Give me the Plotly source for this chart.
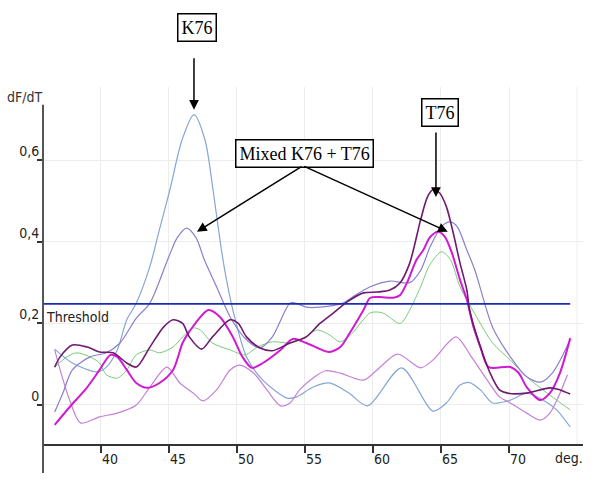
import plotly.graph_objects as go

# ---------------- data ----------------
k76_t = [36.6, 37.9, 39.7, 40.4, 41.2, 41.9, 42.6, 43.6, 44.3, 45.07, 45.96, 46.84, 47.65, 48.24, 48.75, 49.1,
         49.7, 50.7, 51.9, 53.7, 54.4, 55.6, 56.8, 58.2, 59.6, 62.1, 64.4, 65.4, 66.4, 67.1, 67.9, 68.8, 70.1,
         71.3, 72.5, 73.5, 74.5]
k76_v = [0.137, 0.103, 0.081, 0.093, 0.135, 0.209, 0.25, 0.34, 0.43, 0.528, 0.65, 0.712, 0.65, 0.528, 0.405, 0.331,
         0.233, 0.118, 0.061, 0.017, 0.020, 0.044, 0.054, 0.03, -0.002, 0.091, -0.015, 0.005, 0.049, 0.055, 0.037,
         0.005, 0.012, 0.029, 0.012, -0.012, -0.054]

mix_t = [36.6, 37.2, 37.9, 39.2, 40.4, 41.4, 42.6, 43.6, 44.9, 45.6, 46.3, 47.0, 47.6, 48.5, 49.5, 50.7, 51.7,
         52.6, 53.9, 54.3, 55.1, 56.1, 57.8, 58.5, 59.8, 61.25, 62.7, 63.5, 64.2, 65.1, 65.7, 66.2, 66.9, 67.5,
         68.8, 70.1, 71.3, 72.3, 73.2, 74.5]
mix_v = [-0.017, 0.029, 0.086, 0.118, 0.128, 0.152, 0.213, 0.25, 0.356, 0.41, 0.434, 0.41, 0.356, 0.29, 0.216,
         0.16, 0.14, 0.167, 0.25, 0.25, 0.24, 0.24, 0.25, 0.265, 0.29, 0.304, 0.30, 0.33, 0.388, 0.44, 0.449,
         0.437, 0.38, 0.33, 0.19, 0.118, 0.069, 0.056, 0.079, 0.16]

t76_t = [36.6, 37.0, 37.9, 39.0, 39.9, 40.9, 41.9, 42.6, 43.6, 44.6, 45.3, 46.0, 46.5, 47.4, 48.2, 49.5, 50.1,
         50.7, 51.7, 52.6, 53.9, 55.1, 56.1, 57.1, 58.1, 59.3, 60.3, 61.25, 62.0, 62.7, 63.5, 64.0, 64.4, 64.9,
         65.4, 65.9, 66.4, 66.9, 67.1, 67.9, 68.6, 69.3, 69.9, 71.3, 73.0, 73.75, 74.5]
t76_v = [0.093, 0.118, 0.147, 0.142, 0.13, 0.128, 0.103, 0.093, 0.142, 0.191, 0.209, 0.20, 0.167, 0.137, 0.167,
         0.209, 0.20, 0.167, 0.14, 0.133, 0.152, 0.167, 0.20, 0.226, 0.253, 0.275, 0.277, 0.282, 0.30, 0.348,
         0.454, 0.51, 0.528, 0.52, 0.486, 0.422, 0.348, 0.282, 0.233, 0.142, 0.079, 0.037, 0.029, 0.029, 0.042,
         0.037, 0.027]

mag_t = [36.6, 37.7, 39.0, 39.9, 40.7, 41.2, 41.9, 42.6, 43.4, 44.3, 45.3, 46.0, 46.5, 47.9, 48.75, 49.7, 50.4,
         51.1, 51.9, 53.2, 54.1, 55.1, 56.1, 56.8, 57.6, 58.3, 59.3, 59.8, 60.5, 61.5, 62.0, 62.5, 63.2, 63.7,
         64.2, 64.8, 65.3, 65.8, 66.4, 66.9, 67.4, 67.9, 68.5, 70.1, 70.7, 71.3, 72.3, 73.0, 73.75, 74.5]
mag_v = [-0.049, -0.005, 0.044, 0.086, 0.123, 0.118, 0.086, 0.054, 0.042, 0.054, 0.086, 0.152, 0.18, 0.233,
         0.216, 0.167, 0.118, 0.091, 0.103, 0.135, 0.162, 0.152, 0.137, 0.13, 0.142, 0.177, 0.233, 0.263, 0.265,
         0.263, 0.27, 0.30, 0.356, 0.38, 0.412, 0.425, 0.412, 0.373, 0.307, 0.258, 0.19, 0.142, 0.093, 0.093,
         0.079, 0.044, 0.012, 0.029, 0.079, 0.164]

grn_t = [36.6, 37.5, 38.2, 39.2, 39.9, 40.4, 41.2, 41.9, 42.6, 43.6, 44.3, 45.3, 46.0, 46.8, 47.3, 48.2, 49.5,
         50.6, 51.5, 52.6, 53.9, 54.85, 55.9, 56.8, 57.6, 58.5, 59.8, 60.7, 62.0, 62.7, 63.5, 64.2, 65.05, 65.7,
         66.4, 67.6, 68.8, 70.1, 71.3, 72.5, 73.5, 74.5]
grn_v = [0.093, 0.118, 0.128, 0.118, 0.103, 0.074, 0.066, 0.086, 0.123, 0.135, 0.128, 0.142, 0.167, 0.189, 0.184,
         0.152, 0.135, 0.123, 0.142, 0.155, 0.152, 0.164, 0.184, 0.172, 0.155, 0.177, 0.226, 0.226, 0.20, 0.233,
         0.29, 0.345, 0.376, 0.356, 0.29, 0.217, 0.152, 0.11, 0.069, 0.037, 0.012, -0.012]

vio_t = [36.6, 37.0, 37.7, 38.5, 39.9, 41.2, 42.6, 43.6, 44.85, 45.8, 46.8, 47.5, 48.5, 49.5, 50.2, 51.2, 52.2,
         53.2, 53.9, 54.6, 55.6, 56.5, 57.6, 59.3, 60.3, 61.8, 63.5, 64.4, 66.1, 67.2, 68.4, 69.3, 70.1, 71.3,
         72.3, 73.0, 73.75, 74.3]
vio_v = [0.135, 0.086, 0.012, -0.044, -0.029, -0.02, 0.0, 0.044, 0.093, 0.054, 0.029, 0.01, 0.037, 0.086, 0.098,
         0.079, 0.037, -0.002, 0.005, 0.037, 0.066, 0.084, 0.078, 0.061, 0.086, 0.125, 0.091, 0.11, 0.167, 0.12,
         0.061, 0.02, 0.005, -0.02, -0.037, -0.02, 0.029, 0.074]

threshold = 0.248
x_tick_vals = [40, 45, 50, 55, 60, 65, 70]
x_tick_text = ["40", "45", "50", "55", "60", "65", "70"]
y_tick_vals = [0, 0.2, 0.4, 0.6]
y_tick_text = ["0", "0,2", "0,4", "0,6"]

# ---------------- figure ----------------
X_RANGE = [35.74, 75.44]
Y_RANGE = [-0.0957, 0.780]
NARROW = "DejaVu Sans Condensed, Liberation Sans Narrow, Arial Narrow, Liberation Sans, sans-serif"
SERIF = "Liberation Serif, Times New Roman, serif"

series = [
    (k76_t, k76_v, "#86a6d6", 1.2),
    (vio_t, vio_v, "#c482d6", 1.2),
    (grn_t, grn_v, "#78cc78", 1.0),
    (mix_t, mix_v, "#8a80cc", 1.2),
    (mag_t, mag_v, "#d21ad2", 2.0),
    (t76_t, t76_v, "#6e1a6e", 1.6),
]

fig = go.Figure()
for t, v, c, w in series:
    fig.add_trace(go.Scatter(x=t, y=v, mode="lines",
                             line=dict(color=c, width=w, shape="spline", smoothing=0.8),
                             showlegend=False, hoverinfo="skip"))

# threshold line
fig.add_shape(type="line", xref="x", yref="y", x0=X_RANGE[0], x1=max(k76_t),
              y0=threshold, y1=threshold, line=dict(color="#1c2cb0", width=1.6))
# extra gridline at 75
fig.add_shape(type="line", xref="x", yref="paper", x0=75, x1=75, y0=0, y1=1,
              line=dict(color="#ececec", width=1), layer="below")
# y axis line (extends below x axis, as in the reference)
fig.add_shape(type="line", xref="paper", yref="paper", x0=0, x1=0, y0=-0.081, y1=0.95,
              line=dict(color="#555555", width=2))

fig.add_annotation(x=X_RANGE[0], y=threshold, xref="x", yref="y", text="Threshold",
                   showarrow=False, xanchor="left", yanchor="top", xshift=1, yshift=-3,
                   font=dict(family=NARROW, size=14, color="#222222"))
fig.add_annotation(x=0, y=0.972, xref="paper", yref="paper", text="dF/dT",
                   showarrow=False, xanchor="right", yanchor="middle", xshift=1,
                   font=dict(family=NARROW, size=14, color="#333333"))
fig.add_annotation(x=74.4, y=-0.038, xref="x", yref="paper", text="deg.",
                   showarrow=False, xanchor="center", yanchor="middle",
                   font=dict(family=NARROW, size=14, color="#222222"))

box = dict(showarrow=False, bordercolor="black", borderwidth=1.5, borderpad=3, bgcolor="white",
           xanchor="center", yanchor="middle",
           font=dict(family=SERIF, size=18, color="black"))
fig.add_annotation(x=0.286, y=1.168, xref="paper", yref="paper", text="K76", **box)
fig.add_annotation(x=55.0, y=0.618, xref="x", yref="y", text="Mixed K76 + T76", **box)
fig.add_annotation(x=64.9, y=0.717, xref="x", yref="y", text="T76", **box)

arrow = dict(text="", showarrow=True, arrowhead=2, arrowsize=1.3, arrowwidth=1.5,
             arrowcolor="black", standoff=0, xref="x", yref="y")
fig.add_annotation(x=46.84, y=0.724, ax=0, ay=-53, **arrow)
fig.add_annotation(x=47.06, y=0.425, ax=106, ay=-66, **arrow)
fig.add_annotation(x=65.5, y=0.425, ax=-145, ay=-66, **arrow)
fig.add_annotation(x=64.63, y=0.51, ax=0, ay=-66, **arrow)

fig.update_layout(
    width=600, height=493,
    margin=dict(l=43, r=17, t=87, b=49, autoexpand=False),
    paper_bgcolor="white", plot_bgcolor="white",
    xaxis=dict(range=X_RANGE, tickvals=x_tick_vals, ticktext=x_tick_text,
               ticks="outside", ticklen=7, tickwidth=1.5, tickcolor="#333333",
               showline=True, linecolor="#333333", linewidth=1.5,
               showgrid=True, gridcolor="#ececec", gridwidth=1, zeroline=False,
               ticklabelshift=9, ticklabelstandoff=-6, automargin=False,
               tickfont=dict(family=NARROW, size=14, color="#222222")),
    yaxis=dict(range=Y_RANGE, tickvals=y_tick_vals, ticktext=y_tick_text,
               ticks="outside", ticklen=5, tickwidth=1.5, tickcolor="#333333",
               showline=False, showgrid=True, gridcolor="#ececec", gridwidth=1, zeroline=False,
               ticklabelshift=-9, ticklabelstandoff=-5, automargin=False,
               tickfont=dict(family=NARROW, size=14, color="#222222")),
)

fig.write_html("out.html", config={"displayModeBar": False},
               post_script="document.body.style.margin='0';document.body.style.overflow='hidden';")
